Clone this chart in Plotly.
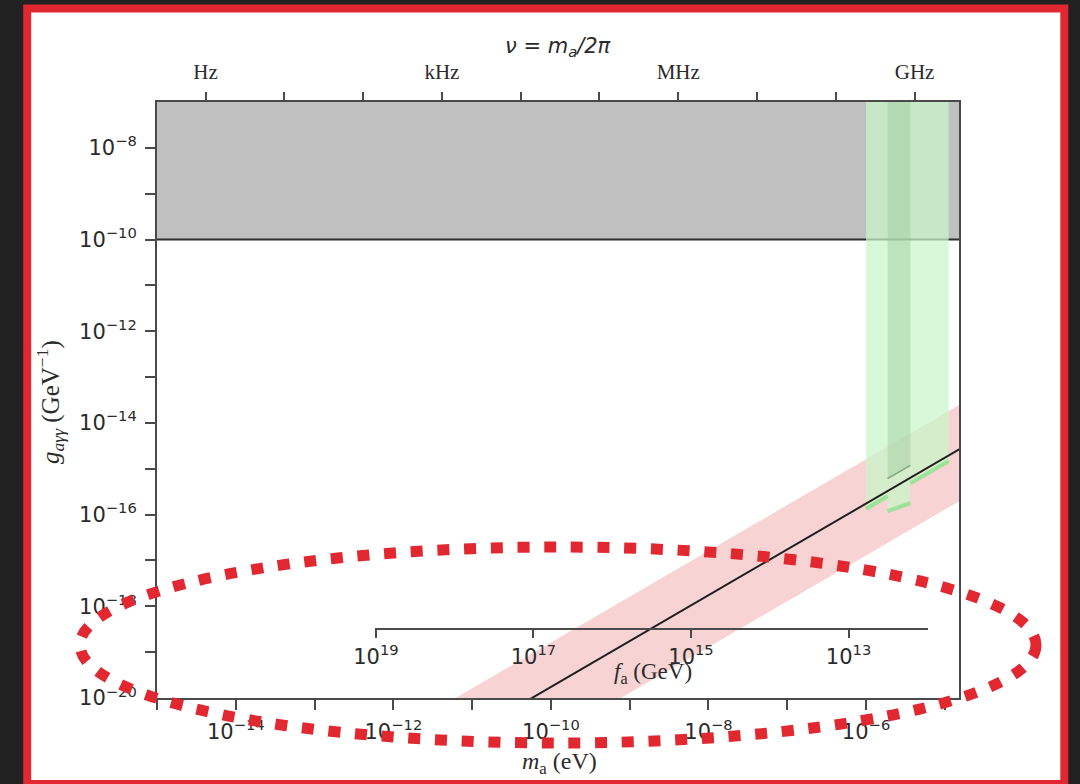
import math
import plotly.graph_objects as go

W, H = 1080, 784

# ---------------- data ----------------
# axion mass grid (eV) along the diagonal model line and its band
mass_grid = [1e-12, 1e-11, 1e-10, 1e-9, 1e-8, 1e-7, 1e-6, 1e-5, 1e-4]
g_model = [1.74e-22, 1.74e-21, 1.74e-20, 1.74e-19, 1.74e-18, 1.74e-17, 1.74e-16, 1.74e-15, 1.74e-14]
g_band_hi = [1.62e-21, 1.62e-20, 1.62e-19, 1.62e-18, 1.62e-17, 1.62e-16, 1.62e-15, 1.62e-14, 1.62e-13]
g_band_lo = [1.29e-23, 1.29e-22, 1.29e-21, 1.29e-20, 1.29e-19, 1.29e-18, 1.29e-17, 1.29e-16, 1.29e-15]

# grey excluded region (above g = 1e-10, all masses)
grey_mass = [1e-16, 1e-4]
grey_g_limit = 1e-10
g_ceiling = 1e-6

# green haloscope-type exclusions
halo_mass = [1.0e-6, 1.88e-6, 1.88e-6, 3.65e-6, 3.65e-6, 1.12e-5]
halo_g_floor = [1.34e-16, 2.51e-16, 1.19e-16, 1.78e-16, 4.8e-16, 1.47e-15]
narrow_mass = [1.88e-6, 3.65e-6]
narrow_g_floor = [6.08e-16, 1.18e-15]

# ticks / labels
mass_tick_exp = list(range(-15, -4))
mass_label_exp = [-14, -12, -10, -8, -6]
g_tick_exp = list(range(-20, -7))
g_label_exp = [-20, -18, -16, -14, -12, -10, -8]
freq_tick_exp = list(range(0, 10))
freq_labels = {0: "Hz", 3: "kHz", 6: "MHz", 9: "GHz"}
fa_tick_exp = [19, 17, 15, 13]

log_mass_range = [-15.0, -4.815]
log_g_range = [-20.0, -7.0]
h_eVs = 4.1357e-15        # nu = m_a / h
fa_times_ma = 6.0e6       # f_a (GeV) * m_a (eV)

# ---------------- layout geometry (pixels) ----------------
PX_L, PX_R, PX_T, PX_B = 157, 959.4, 102, 698
FA_L, FA_R, FA_Y = 375, 928, 629.3


def px(x):
    return x / W


def py(y):
    return 1 - y / H


def pow_label(e):
    s = str(e) if e >= 0 else "\u2212" + str(-e)
    return f"10<sup>{s}</sup>"


# f_a axis range from the mass scale
dec_per_px = (log_mass_range[1] - log_mass_range[0]) / (PX_R - PX_L)
lm_left = log_mass_range[0] + (FA_L - PX_L) * dec_per_px
lm_right = log_mass_range[0] + (FA_R - PX_L) * dec_per_px
lfa = math.log10(fa_times_ma)
fa_range = [lfa - lm_left, lfa - lm_right]
freq_range = [r - math.log10(h_eVs) for r in log_mass_range]

fig = go.Figure()

# grey region
fig.add_trace(go.Scatter(
    x=[grey_mass[0], grey_mass[1], grey_mass[1], grey_mass[0], grey_mass[0]],
    y=[grey_g_limit, grey_g_limit, g_ceiling, g_ceiling, grey_g_limit],
    mode="lines", fill="toself", fillcolor="#c0c0c0",
    line=dict(color="#2e2e2e", width=2), hoverinfo="skip"))

# red band
fig.add_trace(go.Scatter(
    x=mass_grid + mass_grid[::-1],
    y=g_band_hi + g_band_lo[::-1],
    mode="lines", fill="toself", fillcolor="rgba(232,130,130,0.35)",
    line=dict(width=0), hoverinfo="skip"))

# wide green region
fig.add_trace(go.Scatter(
    x=[halo_mass[0]] + halo_mass + [halo_mass[-1]],
    y=[g_ceiling] + halo_g_floor + [g_ceiling],
    mode="lines", fill="toself", fillcolor="rgba(200,247,200,0.72)",
    line=dict(width=0), hoverinfo="skip"))

# narrow darker green region
fig.add_trace(go.Scatter(
    x=[narrow_mass[0]] + narrow_mass + [narrow_mass[-1]],
    y=[g_ceiling] + narrow_g_floor + [g_ceiling],
    mode="lines", fill="toself", fillcolor="rgba(150,195,150,0.38)",
    line=dict(width=0), hoverinfo="skip"))

# bottom edges of green regions
sx, sy = [], []
for i in range(0, len(halo_mass), 2):
    sx += [halo_mass[i], halo_mass[i + 1], None]
    sy += [halo_g_floor[i], halo_g_floor[i + 1], None]
fig.add_trace(go.Scatter(x=sx, y=sy, mode="lines",
                         line=dict(color="rgba(150,228,150,0.95)", width=4),
                         hoverinfo="skip"))
fig.add_trace(go.Scatter(x=narrow_mass, y=narrow_g_floor, mode="lines",
                         line=dict(color="rgba(110,150,110,0.8)", width=1.5),
                         hoverinfo="skip"))

# model line
fig.add_trace(go.Scatter(x=mass_grid, y=g_model, mode="lines",
                         line=dict(color="#1f1f1f", width=2), hoverinfo="skip"))

# carrier traces so the frequency and f_a axes are drawn (no visible marks)
fig.add_trace(go.Scatter(x=[10.0 ** e for e in freq_tick_exp],
                         y=[None] * len(freq_tick_exp), xaxis="x2", yaxis="y",
                         mode="markers", hoverinfo="skip"))
fig.add_trace(go.Scatter(x=[10.0 ** e for e in fa_tick_exp],
                         y=[None] * len(fa_tick_exp), xaxis="x3", yaxis="y",
                         mode="markers", hoverinfo="skip"))

axis_common = dict(showline=True, linecolor="#4a4a4a", linewidth=2,
                   ticks="outside", tickcolor="#4a4a4a", tickwidth=2,
                   showgrid=False, zeroline=False, tickmode="array",
                   automargin=False)
tick_font = dict(family="DejaVu Sans", size=21, color="#2b2b2b")

fig.update_layout(
    width=W, height=H, autosize=False,
    margin=dict(l=0, r=0, t=0, b=0, pad=0),
    paper_bgcolor="#212121", plot_bgcolor="rgba(0,0,0,0)",
    showlegend=False,
    xaxis=dict(
        axis_common, type="log", range=log_mass_range,
        domain=[px(PX_L), px(PX_R)], anchor="y", side="bottom",
        tickvals=[10.0 ** e for e in mass_tick_exp],
        ticktext=[pow_label(e) if e in mass_label_exp else "" for e in mass_tick_exp],
        ticklen=10, tickfont=tick_font, mirror=False, ticklabelstandoff=4),
    yaxis=dict(
        axis_common, type="log", range=log_g_range,
        domain=[py(PX_B), py(PX_T)], anchor="x",
        tickvals=[10.0 ** e for e in g_tick_exp],
        ticktext=[pow_label(e) if e in g_label_exp else "" for e in g_tick_exp],
        ticklen=10, tickfont=tick_font, mirror=True, ticklabelstandoff=4),
    xaxis2=dict(
        axis_common, type="log", range=freq_range, overlaying="x",
        side="top", anchor="y",
        tickvals=[10.0 ** e for e in freq_tick_exp],
        ticktext=[freq_labels.get(e, "") for e in freq_tick_exp],
        ticklen=8, ticklabelstandoff=5,
        tickfont=dict(family="Liberation Serif", size=21, color="#2b2b2b")),
    xaxis3=dict(
        axis_common, type="log", range=fa_range, anchor="free",
        position=py(FA_Y), domain=[px(FA_L), px(FA_R)], side="bottom",
        tickvals=[10.0 ** e for e in fa_tick_exp],
        ticktext=[pow_label(e) for e in fa_tick_exp],
        ticklen=8, tickfont=tick_font),
)

ann = [
    dict(text="<i>g</i><sub><i>aγγ</i></sub> (GeV<sup>\u22121</sup>)",
         x=px(50), y=py(402), textangle=-90,
         font=dict(family="Liberation Serif", size=25, color="#2b2b2b")),
    dict(text="<i>m</i><sub>a</sub> (eV)", x=px(559), y=py(763),
         font=dict(family="Liberation Serif", size=24, color="#2b2b2b")),
    dict(text="<i>ν = m<sub>a</sub>/2π</i>", x=px(558), y=py(47),
         font=dict(family="DejaVu Sans", size=21, color="#2b2b2b")),
    dict(text="<i>f</i><sub>a</sub> (GeV)", x=px(653), y=py(673),
         font=dict(family="Liberation Serif", size=23, color="#2b2b2b")),
]
for a in ann:
    a.update(xref="paper", yref="paper", showarrow=False,
             xanchor="center", yanchor="middle")
fig.update_layout(annotations=ann)

red = "#e12730"
fig.update_layout(shapes=[
    dict(type="rect", xref="paper", yref="paper", layer="below",
         x0=px(27.2), x1=px(1064.3), y0=py(784), y1=py(8.6),
         fillcolor="white", line=dict(color=red, width=8)),
    dict(type="circle", xref="paper", yref="paper", layer="above",
         x0=px(80), x1=px(1036), y0=py(743), y1=py(547),
         line=dict(color=red, width=11, dash="12px,14.7px")),
])

fig.write_html(
    "out.html",
    config={"displayModeBar": False, "responsive": False},
    post_script="document.body.style.margin='0';"
                "document.body.style.background='#212121';"
                "document.body.style.overflow='hidden';")
